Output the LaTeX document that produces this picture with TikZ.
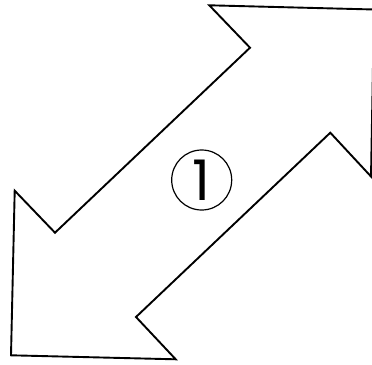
\documentclass[tikz,border=0pt]{standalone}
\usepackage{fontspec}
\newfontfamily\digitfont{Poppins}
\begin{document}
\begin{tikzpicture}[x=1pt,y=-1pt,
  arrowshape/.style={draw=black, line width=1.9pt, line join=miter, fill=white},
  ring/.style={circle, draw=black, line width=1.2pt, minimum size=60pt, inner sep=0pt}]
\useasboundingbox (0,0) rectangle (372,364);
\begin{scope}
\clip (0,0) rectangle (372,364);
\draw[arrowshape] (209.3,5.3) -- (374,9.5) -- (371,176.5) -- (330.3,132.7)
  -- (136,317) -- (175.7,359.3) -- (11,355.3) -- (14.7,190.7) -- (55,232.7)
  -- (250,47.7) -- cycle;
\end{scope}
\node[ring] (one) at (201.7,180) {\digitfont\fontsize{56}{56}\selectfont 1};
\end{tikzpicture}
\end{document}
